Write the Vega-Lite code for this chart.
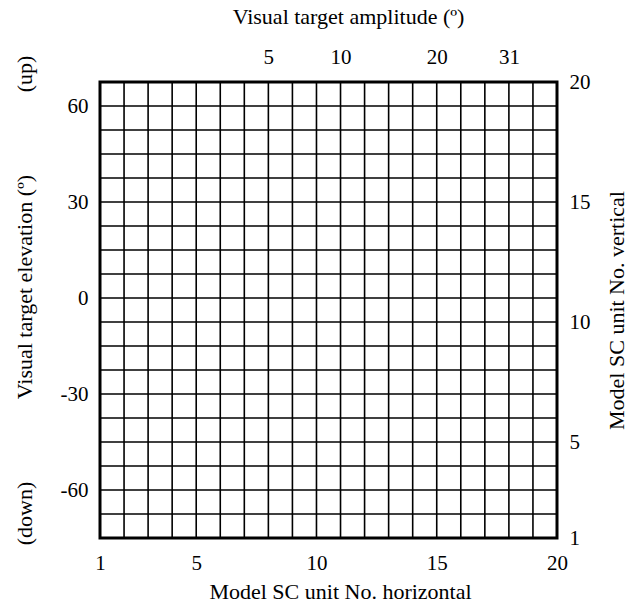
{
  "$schema": "https://vega.github.io/schema/vega-lite/v6.json",
  "width": 457,
  "height": 456,
  "autosize": {"type": "none"},
  "padding": {"left": 100, "top": 82, "right": 84, "bottom": 68},
  "background": "white",
  "config": {
    "font": "Liberation Serif",
    "view": {"stroke": "black", "strokeWidth": 3},
    "axis": {
      "labelFont": "Liberation Serif",
      "titleFont": "Liberation Serif",
      "labelFontSize": 21,
      "titleFontSize": 22,
      "titleFontWeight": "normal",
      "labelColor": "black",
      "titleColor": "black",
      "labelFlush": false,
      "labelOverlap": false,
      "grid": false,
      "ticks": false,
      "domain": false
    }
  },
  "datasets": {
    "grid": [{"n": 1}, {"n": 2}, {"n": 3}, {"n": 4}, {"n": 5}, {"n": 6}, {"n": 7}, {"n": 8}, {"n": 9}, {"n": 10}, {"n": 11}, {"n": 12}, {"n": 13}, {"n": 14}, {"n": 15}, {"n": 16}, {"n": 17}, {"n": 18}, {"n": 19}, {"n": 20}],
    "amp": [{"unit": 8, "deg": 5}, {"unit": 11, "deg": 10}, {"unit": 15, "deg": 20}, {"unit": 18, "deg": 31}],
    "elev": [{"unit": 3, "deg": -60}, {"unit": 7, "deg": -30}, {"unit": 11, "deg": 0}, {"unit": 15, "deg": 30}, {"unit": 19, "deg": 60}]
  },
  "layer": [
    {
      "data": {"name": "grid"},
      "mark": {"type": "rule", "color": "black", "strokeWidth": 1.6},
      "encoding": {
        "x": {
          "field": "n", "type": "quantitative",
          "scale": {"domain": [1, 20], "nice": false, "zero": false},
          "axis": {"orient": "bottom", "values": [1, 5, 10, 15, 20], "title": "Model SC unit No. horizontal", "titleX": 240, "labelPadding": 14, "titlePadding": 8}
        }
      }
    },
    {
      "data": {"name": "grid"},
      "mark": {"type": "rule", "color": "black", "strokeWidth": 1.6},
      "encoding": {
        "y": {
          "field": "n", "type": "quantitative",
          "scale": {"domain": [1, 20], "nice": false, "zero": false},
          "axis": {"orient": "right", "values": [1, 5, 10, 15, 20], "title": "Model SC unit No. vertical", "titleAngle": 270, "labelPadding": 12, "titlePadding": 38}
        }
      }
    },
    {
      "data": {"name": "amp"},
      "mark": {"type": "point", "opacity": 0},
      "encoding": {
        "x": {
          "field": "unit", "type": "quantitative",
          "scale": {"domain": [1, 20], "nice": false, "zero": false},
          "axis": {"orient": "top", "values": [8, 11, 15, 18], "labelExpr": "datum.value === 8 ? '5' : datum.value === 11 ? '10' : datum.value === 15 ? '20' : datum.value === 18 ? '31' : ''", "title": "Visual target amplitude (º)", "titleX": 248, "labelPadding": 15, "titlePadding": 18}
        }
      }
    },
    {
      "data": {"name": "elev"},
      "mark": {"type": "point", "opacity": 0},
      "encoding": {
        "y": {
          "field": "deg", "type": "quantitative",
          "scale": {"domain": [-75, 67.5], "nice": false, "zero": false},
          "axis": {"orient": "left", "values": [-60, -30, 0, 30, 60], "labelExpr": "'' + datum.value", "title": "(down)\u00a0\u00a0\u00a0\u00a0\u00a0\u00a0\u00a0\u00a0\u00a0\u00a0\u00a0\u00a0\u00a0\u00a0\u00a0Visual target elevation (º)\u00a0\u00a0\u00a0\u00a0\u00a0\u00a0\u00a0\u00a0\u00a0\u00a0\u00a0\u00a0\u00a0\u00a0\u00a0(up)", "titleY": 218, "labelPadding": 12, "titlePadding": 24}
        }
      }
    }
  ],
  "resolve": {"scale": {"y": "independent"}, "axis": {"x": "independent", "y": "independent"}}
}
